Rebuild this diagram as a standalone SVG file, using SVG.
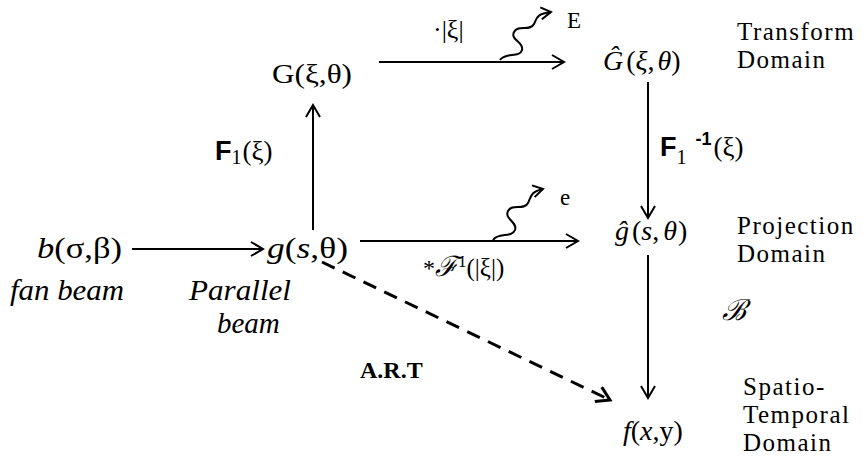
<svg xmlns="http://www.w3.org/2000/svg" width="863" height="462" viewBox="0 0 863 462">
<defs>
<style>
.t{font-family:"Liberation Serif","Times New Roman",serif;fill:#000}
.i{font-style:italic}
.b{font-family:"Liberation Sans",Arial,sans-serif;font-weight:bold}
.dm{font-size:25px;letter-spacing:1.5px}
.ln{stroke:#000;stroke-width:2;fill:none}
.ds{stroke:#000;stroke-width:3;fill:none;stroke-dasharray:14,9}
</style>
<marker id="ah" markerWidth="16" markerHeight="16" refX="13" refY="8" orient="auto" markerUnits="userSpaceOnUse">
<path d="M1,1 L13,8 L1,15" fill="none" stroke="#000" stroke-width="2"/>
</marker>
<marker id="ahd" markerWidth="18" markerHeight="18" refX="15" refY="9" orient="auto" markerUnits="userSpaceOnUse">
<path d="M2,1 L15,9 L2,17" fill="none" stroke="#000" stroke-width="3"/>
</marker>
<marker id="ahw" markerWidth="14" markerHeight="14" refX="11" refY="7" orient="auto" markerUnits="userSpaceOnUse">
<path d="M1,1 L11,7 L1,13" fill="none" stroke="#000" stroke-width="2"/>
</marker>
</defs>
<rect width="863" height="462" fill="#fff"/>
<g id="connectors">
<line class="ln" x1="379" y1="62" x2="564" y2="62" marker-end="url(#ah)"/>
<line class="ln" x1="648" y1="82" x2="648" y2="218" marker-end="url(#ah)"/>
<line class="ln" x1="360" y1="241" x2="578" y2="241" marker-end="url(#ah)"/>
<line class="ln" x1="132" y1="249" x2="263" y2="249" marker-end="url(#ah)"/>
<line class="ln" x1="313" y1="230" x2="313" y2="105" marker-end="url(#ah)"/>
<line class="ln" x1="648" y1="255" x2="648" y2="398" marker-end="url(#ah)"/>
<line class="ds" x1="322" y1="262" x2="610" y2="400" marker-end="url(#ahd)"/>
<path class="ln" d="M500,60 C505,52 520,58 522,50 C524,42 510,40 514,32 C518,24 530,32 534,24 C537,18 536,14 551,12" marker-end="url(#ahw)"/>
<path class="ln" d="M493,240 C498,232 512,238 515,230 C518,222 504,219 508,211 C512,203 524,211 528,203 C531,197 530,192 543,189" marker-end="url(#ahw)"/>
</g>
<g id="G">
<text class="t" x="272" y="83" font-size="28" textLength="80" lengthAdjust="spacingAndGlyphs">G(ξ,θ)</text>
</g>
<g id="Ghat">
<text class="t" x="603" y="70" font-size="28"><tspan class="i">Ĝ</tspan><tspan dx="3">(</tspan><tspan class="i">ξ</tspan>,<tspan class="i" dx="3">θ</tspan>)</text>
</g>
<g id="b">
<text class="t" x="37" y="258" font-size="29" textLength="85" lengthAdjust="spacingAndGlyphs"><tspan class="i">b</tspan>(σ,β)</text>
</g>
<g id="g">
<text class="t" x="267" y="258" font-size="29" textLength="81" lengthAdjust="spacingAndGlyphs"><tspan class="i">g</tspan>(<tspan class="i">s</tspan>,θ)</text>
</g>
<g id="ghat">
<text class="t" x="615" y="240" font-size="28"><tspan class="i">ĝ</tspan><tspan dx="3">(</tspan><tspan class="i">s</tspan>,<tspan class="i" dx="4">θ</tspan><tspan dx="1">)</tspan></text>
</g>
<g id="f">
<text class="t" x="623" y="440" font-size="28"><tspan class="i">f</tspan>(<tspan class="i">x</tspan>,y)</text>
</g>
<g id="labels">
<text class="t" x="433" y="38" font-size="26">·|ξ|</text>
<text class="t" x="567" y="28" font-size="23">E</text>
<text class="t" x="560" y="205" font-size="23">e</text>
<text class="t dm"><tspan x="737" y="40">Transform</tspan><tspan x="737" y="68">Domain</tspan></text>
<text class="t dm"><tspan x="737" y="234">Projection</tspan><tspan x="737" y="262">Domain</tspan></text>
<text class="t dm"><tspan x="743" y="395">Spatio-</tspan><tspan x="743" y="423">Temporal</tspan><tspan x="743" y="451">Domain</tspan></text>
<text class="t i" x="10" y="300" font-size="29" textLength="114" lengthAdjust="spacingAndGlyphs">fan beam</text>
<text class="t i" font-size="29"><tspan x="189" y="300" textLength="102" lengthAdjust="spacingAndGlyphs">Parallel</tspan><tspan x="217" y="333">beam</tspan></text>
<text class="t" x="215" y="160"><tspan class="b" font-size="27">F</tspan><tspan font-size="20" dy="4">1</tspan><tspan font-size="27" dx="1" dy="-4">(ξ)</tspan></text>
<text class="t" x="660" y="156"><tspan class="b" font-size="27">F</tspan><tspan font-size="20" dy="8">1</tspan><tspan class="b" font-size="18" dx="9" dy="-19">-1</tspan><tspan font-size="27" dx="2" dy="11">(ξ)</tspan></text>
<text class="t" x="423" y="276"><tspan font-size="24">*</tspan><tspan class="i" font-size="28">ℱ</tspan><tspan font-size="17" dy="-9">1</tspan><tspan font-size="25" dy="9">(|ξ|)</tspan></text>
<text class="t" x="360" y="378" font-size="24" font-weight="bold">A.R.T</text>
<text class="t i" x="722" y="320" font-size="29">ℬ</text>
</g>
</svg>
